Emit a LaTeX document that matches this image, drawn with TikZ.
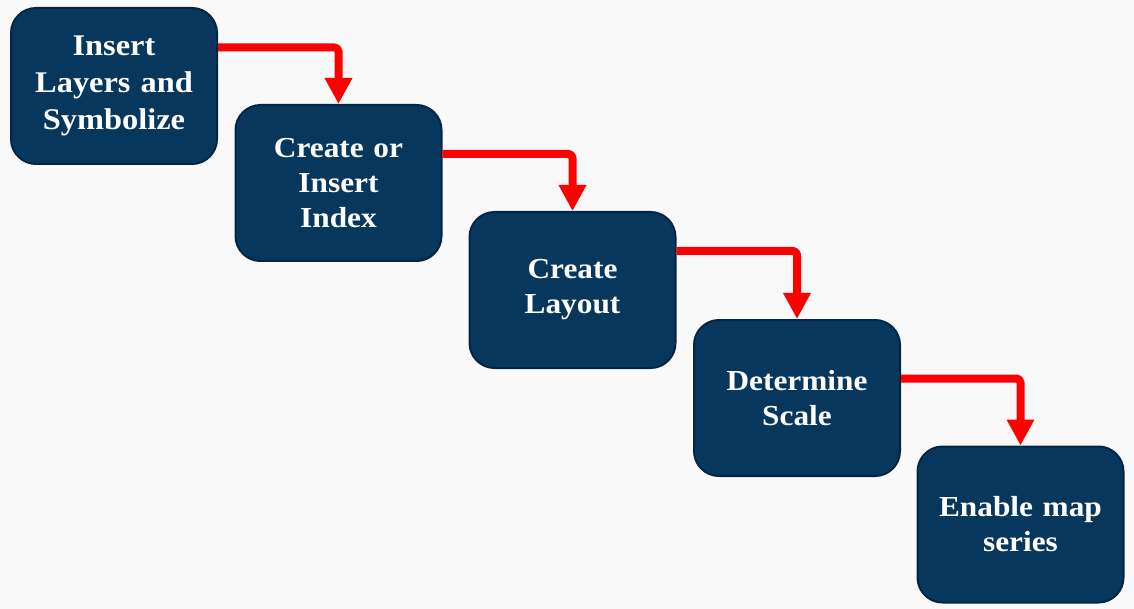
\documentclass[tikz,border=0pt]{standalone}
\usepackage{fontspec}
\setmainfont{Liberation Serif}[FakeStretch=1.08]
\usetikzlibrary{arrows.meta}
\definecolor{navy}{RGB}{8,55,94}
\definecolor{navyline}{RGB}{5,38,66}
\definecolor{paper}{RGB}{249,249,249}
\begin{document}
\begin{tikzpicture}[x=1pt, y=-1pt, line join=round,
		box/.style={draw=navyline, line width=2pt, fill=navy, rounded corners=25pt, minimum width=206pt, minimum height=156pt, text width=196pt, align=center, text=white, font=\fontsize{29}{35}\selectfont\bfseries},
		big/.style={font=\fontsize{30}{37}\selectfont\bfseries},
		flow/.style={draw=red, line width=8pt, rounded corners=4pt, -{Triangle[width=26pt,length=26pt]}}]
	\fill[paper] (0,0) rectangle (1134,609);
	\foreach \n/\x/\y/\f/\t in {b1/114/86/big/{Insert\\Layers and\\Symbolize}, b2/338.5/183/{}/{Create or\\Insert\\Index}, b3/572.5/290/{}/{Create\\Layout}, b4/797/398/{}/{Determine\\Scale}, b5/1020.5/524.5/{}/{Enable map\\series}}
		\node[box,\f] (\n) at (\x,\y) {\t};
	\foreach \a/\b/\s in {b1/b2/38.5, b2/b3/29, b3/b4/39, b4/b5/19.5}
		\draw[flow] ([yshift=\s pt]\a.east) -| (\b.north);
\end{tikzpicture}
\end{document}
